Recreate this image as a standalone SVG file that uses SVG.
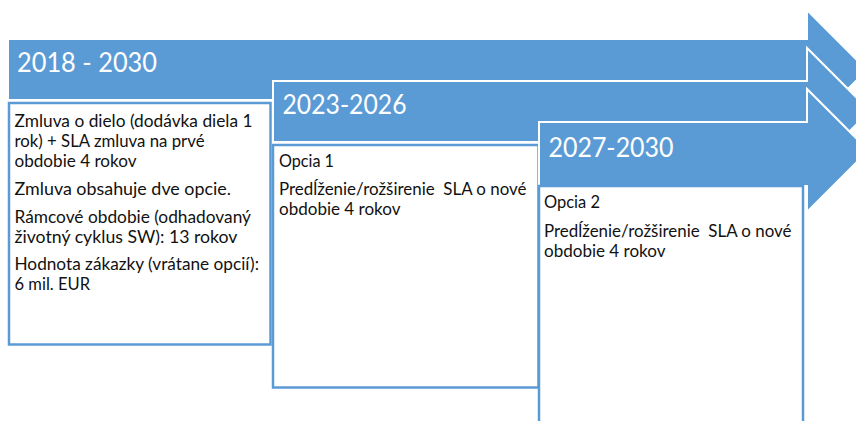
<svg xmlns="http://www.w3.org/2000/svg" width="856" height="421" viewBox="0 0 856 421">
<style>
.arrow{fill:#5B9BD5;stroke:#FFFFFF;stroke-width:2;stroke-linejoin:miter}
.box{fill:#FFFFFF;stroke:#5B9BD5;stroke-width:2.5}
.title{font-family:Lato,"Liberation Sans",sans-serif;font-size:27px;fill:#FFFFFF}
.txt{font-family:Lato,"Liberation Sans",sans-serif;font-size:17px;fill:#111111;white-space:pre}
</style>
<rect width="856" height="421" fill="#FFFFFF"/>
<g id="period-2018-2030">
<polygon class="arrow" points="8,39 807,39 807,10 867,70 807,130 807,100 8,100"/>
<text class="title" x="17" y="72" textLength="140" lengthAdjust="spacingAndGlyphs">2018 - 2030</text>
</g>
<g id="box-2018-2030">
<rect class="box" x="9" y="103" width="261.5" height="241.5"/>
<text class="txt" x="14.5" y="127" textLength="238" lengthAdjust="spacingAndGlyphs">Zmluva o dielo (dodávka diela 1</text>
<text class="txt" x="14.5" y="147" textLength="190" lengthAdjust="spacingAndGlyphs">rok) + SLA zmluva na prvé</text>
<text class="txt" x="14.5" y="167" textLength="122" lengthAdjust="spacingAndGlyphs">obdobie 4 rokov</text>
<text class="txt" x="14.5" y="195" textLength="216.5" lengthAdjust="spacingAndGlyphs">Zmluva obsahuje dve opcie.</text>
<text class="txt" x="14.5" y="223" textLength="236.5" lengthAdjust="spacingAndGlyphs">Rámcové obdobie (odhadovaný</text>
<text class="txt" x="14.5" y="243" textLength="223" lengthAdjust="spacingAndGlyphs">životný cyklus SW): 13 rokov</text>
<text class="txt" x="14.5" y="270" textLength="244.5" lengthAdjust="spacingAndGlyphs">Hodnota zákazky (vrátane opcií):</text>
<text class="txt" x="14.5" y="290" textLength="75.5" lengthAdjust="spacingAndGlyphs">6 mil. EUR</text>
</g>
<g id="period-2023-2026">
<polygon class="arrow" points="273,81 807,81 807,48 870,111 807,174 807,142 273,142"/>
<text class="title" x="282.5" y="114" textLength="124" lengthAdjust="spacingAndGlyphs">2023-2026</text>
</g>
<g id="box-2023-2026">
<rect class="box" x="273" y="145" width="265.5" height="242.5"/>
<text class="txt" x="279" y="167" textLength="55" lengthAdjust="spacingAndGlyphs">Opcia 1</text>
<text class="txt" x="279" y="195" textLength="247.5" lengthAdjust="spacingAndGlyphs">Predĺženie/rožširenie  SLA o nové</text>
<text class="txt" x="279" y="215" textLength="121.5" lengthAdjust="spacingAndGlyphs">obdobie 4 rokov</text>
</g>
<g id="period-2027-2030">
<polygon class="arrow" points="539,122 807,122 807,89 868.5,150.5 807,212 807,186 539,186"/>
<text class="title" x="548.5" y="157" textLength="125" lengthAdjust="spacingAndGlyphs">2027-2030</text>
</g>
<g id="box-2027-2030">
<rect class="box" x="539" y="186" width="264" height="250"/>
<text class="txt" x="544" y="208" textLength="56" lengthAdjust="spacingAndGlyphs">Opcia 2</text>
<text class="txt" x="544" y="237" textLength="247.5" lengthAdjust="spacingAndGlyphs">Predĺženie/rožširenie  SLA o nové</text>
<text class="txt" x="544" y="257" textLength="121.5" lengthAdjust="spacingAndGlyphs">obdobie 4 rokov</text>
</g>
<g id="connectors"></g>
</svg>
